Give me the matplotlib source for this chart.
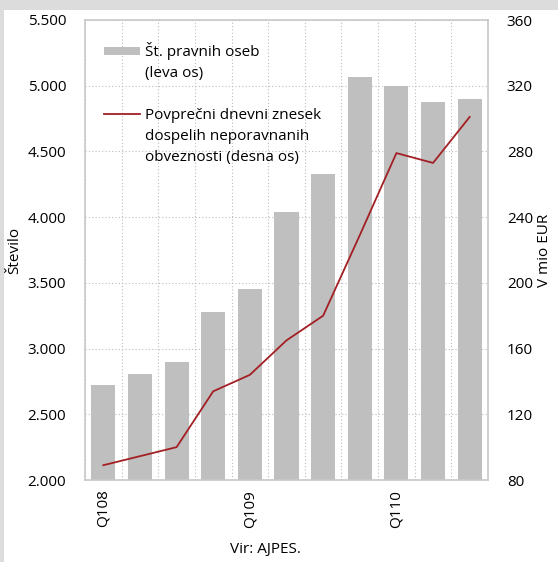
import matplotlib
matplotlib.use("Agg")
import matplotlib.pyplot as plt
import numpy as np
from matplotlib.patches import Rectangle
from matplotlib.lines import Line2D

plt.rcParams['font.family'] = ['Open Sans', 'DejaVu Sans']

categories = ["Q108", "Q208", "Q308", "Q408", "Q109", "Q209", "Q309", "Q409", "Q110", "Q210", "Q310"]
tick_labels = ["Q108", "", "", "", "Q109", "", "", "", "Q110", "", ""]
num_entities = [2723, 2807, 2898, 3278, 3453, 4040, 4329, 5067, 4998, 4877, 4900]
daily_amount = [89, 94.5, 100, 134, 144, 165, 180, 229, 279, 273, 301]
legend_bar = "Št. pravnih oseb\n(leva os)"
legend_line = "Povprečni dnevni znesek\ndospelih neporavnanih\nobveznosti (desna os)"

W, H = 558, 562
fig = plt.figure(figsize=(W / 100, H / 100), dpi=100)
fig.patch.set_facecolor("white")
fig.patches.append(Rectangle((0, 1 - 10/H), 1, 10/H, transform=fig.transFigure,
                             facecolor="#dcdcdc", edgecolor="none", zorder=0))
fig.patches.append(Rectangle((0, 0), 4/W, 1, transform=fig.transFigure,
                             facecolor="#dcdcdc", edgecolor="none", zorder=0))

L, R, T, B = 85, 488, 20, 480
ax = fig.add_axes([L/W, 1 - B/H, (R - L)/W, (B - T)/H])
x = np.arange(len(categories))
ax.bar(x, num_entities, width=0.66, color="#bfbfbf", zorder=2)
ax.set_ylim(2000, 5500)
ax.set_xlim(-0.5, len(categories) - 0.5)
ax.set_yticks(np.arange(2000, 5501, 500))
ax.set_yticklabels([f"{v:,}".replace(",", ".") for v in range(2000, 5501, 500)], fontsize=11)
ax.set_xticks(x)
ax.set_xticklabels(tick_labels, rotation=90, fontsize=11)
ax.tick_params(length=0)
ax.tick_params(axis='y', pad=13.5)
ax.tick_params(axis='x', pad=7)
ax.set_xticks(np.arange(-0.5, len(categories)), minor=True)
ax.grid(axis='y', which='major', linestyle=(0, (1, 2)), color="#bdbdbd", linewidth=0.8, zorder=1)
ax.grid(axis='x', which='minor', linestyle=(0, (1, 2)), color="#bdbdbd", linewidth=0.8, zorder=1)
ax.tick_params(which='minor', length=0)
for s in ax.spines.values():
    s.set_color("#c8c8c8")
    s.set_linewidth(1.2)
ax.set_ylabel("Število", fontsize=11)
ax.yaxis.set_label_coords((22 - L) / (R - L), 0.5)

ax2 = ax.twinx()
ax2.plot(x, daily_amount, color="#a31f24", linewidth=1.3, zorder=3)
ax2.set_ylim(80, 360)
ax2.set_yticks(np.arange(80, 361, 40))
ax2.tick_params(length=0, pad=13.5, labelsize=11)
for s in ax2.spines.values():
    s.set_visible(False)
ax2.set_ylabel("V mio EUR", fontsize=11)
ax2.yaxis.set_label_coords((537 - L) / (R - L), 0.5)

# manual legend (axes coordinates from pixel layout)
def ax_xy(px, py):
    return ((px - L) / (R - L), (B - py) / (B - T))

x0, y0 = ax_xy(104, 55)
x1, y1 = ax_xy(140, 47)
ax2.add_patch(Rectangle((x0, y0), x1 - x0, y1 - y0, transform=ax2.transAxes,
                        facecolor="#bfbfbf", edgecolor="none", zorder=5))
tx, ty = ax_xy(145, 42)
ax2.text(tx, ty, legend_bar, transform=ax2.transAxes, fontsize=11, ha="left",
         va="top", linespacing=1.55, zorder=5)
lx0, ly = ax_xy(104, 114)
lx1, _ = ax_xy(140, 114)
ax2.add_line(Line2D([lx0, lx1], [ly, ly], transform=ax2.transAxes, color="#a31f24",
                    linewidth=1.3, zorder=5))
tx2, ty2 = ax_xy(145, 108)
ax2.text(tx2, ty2, legend_line, transform=ax2.transAxes, fontsize=11, ha="left",
         va="top", linespacing=1.55, zorder=5)

fig.text(265/W, 1 - 550/H, "Vir: AJPES.", ha="center", va="center", fontsize=11)

fig.savefig("out.png", dpi=100)
